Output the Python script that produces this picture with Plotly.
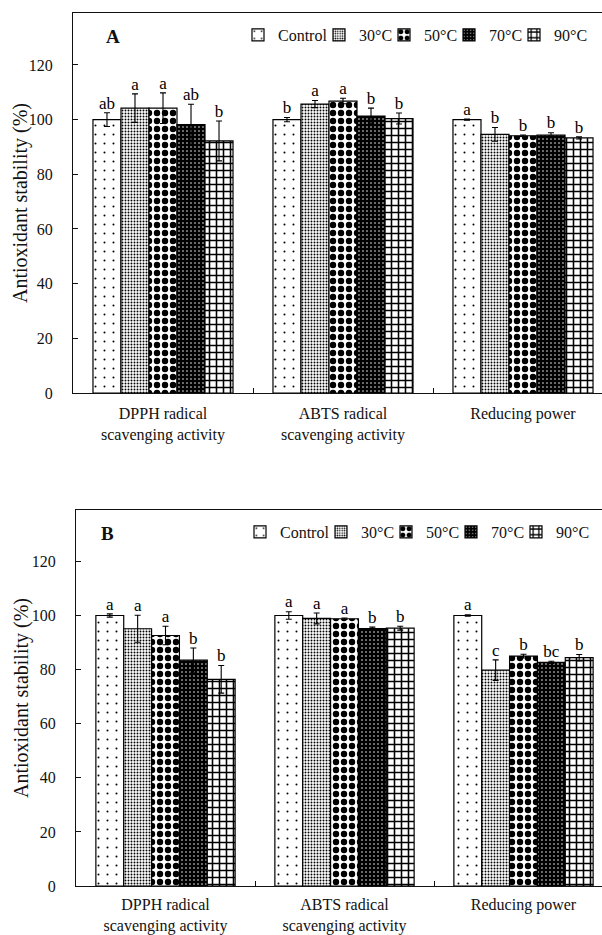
import plotly.graph_objects as go

# ---------------- data ----------------
categories = ["DPPH radical<br>scavenging activity",
              "ABTS radical<br>scavenging activity",
              "Reducing power"]
cat_pos = [0, 1, 2]
treatments = ["Control", "30\u00b0C", "50\u00b0C", "70\u00b0C", "90\u00b0C"]
y_ticks = [0, 20, 40, 60, 80, 100, 120]
y_title = "Antioxidant stability (%)"
panel_tags = ["A", "B"]

# Panel A (values per treatment across the 3 categories)
a_control = [100.0, 100.0, 100.0]
a_30 = [104.2, 105.7, 94.6]
a_50 = [104.2, 106.8, 94.1]
a_70 = [98.2, 101.3, 94.3]
a_90 = [92.2, 100.4, 93.3]

a_control_err = [2.5, 0.8, 0.2]
a_30_err = [5.2, 1.3, 2.5]
a_50_err = [5.6, 1.0, 0.3]
a_70_err = [7.4, 2.9, 0.9]
a_90_err = [7.3, 2.0, 0.4]

a_control_lab = ["ab", "b", "a"]
a_30_lab = ["a", "a", "b"]
a_50_lab = ["a", "a", "b"]
a_70_lab = ["ab", "b", "b"]
a_90_lab = ["b", "b", "b"]

# Panel B
b_control = [100.0, 100.0, 100.0]
b_30 = [95.1, 98.9, 79.8]
b_50 = [92.6, 98.8, 85.0]
b_70 = [83.5, 95.2, 82.7]
b_90 = [76.4, 95.3, 84.4]

b_control_err = [0.6, 1.4, 0.3]
b_30_err = [5.0, 2.0, 3.8]
b_50_err = [3.4, 0.3, 0.7]
b_70_err = [4.5, 0.5, 0.4]
b_90_err = [5.1, 0.7, 1.2]

b_control_lab = ["a", "a", "a"]
b_30_lab = ["a", "a", "c"]
b_50_lab = ["a", "a", "b"]
b_70_lab = ["b", "b", "bc"]
b_90_lab = ["b", "b", "b"]

panel_a_vals = [a_control, a_30, a_50, a_70, a_90]
panel_a_errs = [a_control_err, a_30_err, a_50_err, a_70_err, a_90_err]
panel_a_labs = [a_control_lab, a_30_lab, a_50_lab, a_70_lab, a_90_lab]
panel_b_vals = [b_control, b_30, b_50, b_70, b_90]
panel_b_errs = [b_control_err, b_30_err, b_50_err, b_70_err, b_90_err]
panel_b_labs = [b_control_lab, b_30_lab, b_50_lab, b_70_lab, b_90_lab]

# ---------------- styles ----------------
FONT = "Liberation Serif"
W, H = 602, 935
patterns = [
    dict(shape=".", size=9, solidity=0.04, fgcolor="black", bgcolor="white", fillmode="replace"),
    dict(shape=".", size=3, solidity=0.32, fgcolor="black", bgcolor="white", fillmode="replace"),
    dict(shape=".", size=8, solidity=0.5, fgcolor="black", bgcolor="white", fillmode="replace"),
    dict(shape=".", size=4, solidity=0.12, fgcolor="white", bgcolor="black", fillmode="replace"),
    dict(shape="+", size=7, solidity=0.4, fgcolor="black", bgcolor="white", fillmode="replace"),
]
legend_widths = [36, 20, 20, 20, 33]

fig = go.Figure()


def add_panel(vals, errs, labs, xa, ya, legend_name):
    for i, t in enumerate(treatments):
        fig.add_trace(go.Bar(
            x=cat_pos, y=vals[i], name=t,
            xaxis=xa, yaxis=ya, legend=legend_name,
            offsetgroup=t, legendwidth=legend_widths[i],
            marker=dict(color="white", line=dict(color="black", width=1.2),
                        pattern=patterns[i]),
            error_y=dict(type="data", array=errs[i], color="black",
                         thickness=1.1, width=3),
        ))
    for i, t in enumerate(treatments):
        tops = [v + e for v, e in zip(vals[i], errs[i])]
        fig.add_trace(go.Scatter(
            x=cat_pos, y=tops, text=labs[i], mode="text",
            textposition="top center", offsetgroup=t,
            xaxis=xa, yaxis=ya, showlegend=False, cliponaxis=False,
            textfont=dict(family=FONT, size=17, color="black"),
            hoverinfo="skip",
        ))


add_panel(panel_a_vals, panel_a_errs, panel_a_labs, "x", "y", "legend")
add_panel(panel_b_vals, panel_b_errs, panel_b_labs, "x2", "y2", "legend2")


def xaxis_style(left_px, cat_px, standoff):
    return dict(
        domain=[left_px / W, 1.0],
        range=[-0.5, -0.5 + (W - left_px) / cat_px],
        tickmode="array", tickvals=cat_pos, ticktext=categories,
        ticks="", showgrid=False, zeroline=False, automargin=False,
        showline=True, linecolor="#111", linewidth=1.3, mirror=True,
        tickfont=dict(family=FONT, size=16, color="#111"),
        ticklabelstandoff=standoff,
        minor=dict(tickmode="array", tickvals=[0.5, 1.5], ticks="inside",
                   ticklen=5, tickcolor="#111", tickwidth=1),
        fixedrange=True,
    )


def yaxis_style(top_px, bottom_px, anchor):
    return dict(
        domain=[1 - bottom_px / H, 1 - top_px / H],
        range=[0, 139],
        tickmode="array", tickvals=y_ticks,
        ticks="inside", ticklen=5, tickcolor="#111",
        showgrid=False, zeroline=False, automargin=False,
        showline=True, linecolor="#111", linewidth=1.3,
        tickfont=dict(family=FONT, size=16, color="#111"),
        ticklabelstandoff=16,
        anchor=anchor, fixedrange=True,
    )


legend_common = dict(
    orientation="h", xanchor="right", yanchor="middle",
    font=dict(family=FONT, size=16, color="#111"),
    bgcolor="rgba(0,0,0,0)", borderwidth=0, itemclick=False,
    itemdoubleclick=False, traceorder="normal",
)

A_TOP, A_BOT = 13, 393
B_TOP, B_BOT = 510, 886

annots = []
for tag, (tx, ty) in zip(panel_tags, [(113, 37), (107, 533)]):
    annots.append(dict(text="<b>%s</b>" % tag, x=tx / W, y=1 - ty / H,
                       xref="paper", yref="paper", xanchor="center", yanchor="middle",
                       showarrow=False, font=dict(family=FONT, size=19, color="#111")))
for top, bot in [(A_TOP, A_BOT), (B_TOP, B_BOT)]:
    annots.append(dict(text=y_title, x=21 / W, y=1 - (top + bot) / 2 / H,
                       xref="paper", yref="paper", xanchor="center", yanchor="middle",
                       textangle=-90, showarrow=False,
                       font=dict(family=FONT, size=20, color="#111")))

fig.update_layout(
    width=W, height=H,
    margin=dict(l=0, r=0, t=0, b=0, autoexpand=False),
    paper_bgcolor="white", plot_bgcolor="white",
    barmode="group", bargap=0.222, bargroupgap=0,
    scattermode="group",
    xaxis=dict(**xaxis_style(73, 180, 6), anchor="y"),
    yaxis=yaxis_style(A_TOP, A_BOT, "x"),
    xaxis2=dict(**xaxis_style(76, 179, 4), anchor="y2"),
    yaxis2=yaxis_style(B_TOP, B_BOT, "x2"),
    legend=dict(**legend_common, x=592 / W, y=1 - 35 / H),
    legend2=dict(**legend_common, x=594 / W, y=1 - 532 / H),
    annotations=annots,
    showlegend=True,
)

fig.write_html("out.html",
               config={"displayModeBar": False},
               post_script="document.body.style.margin='0';"
                           "document.body.style.overflow='hidden';")
